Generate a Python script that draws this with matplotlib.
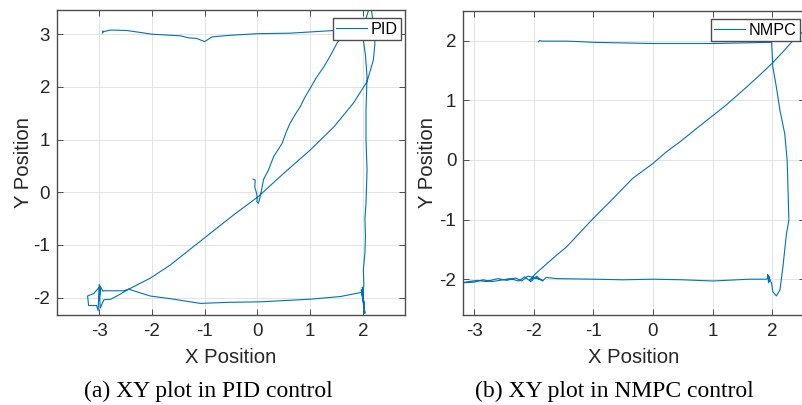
import numpy as np
import matplotlib
matplotlib.use("Agg")
import matplotlib.pyplot as plt

plt.rcParams['font.family'] = ['Liberation Sans', 'DejaVu Sans']
plt.rcParams['axes.unicode_minus'] = False

nan = np.nan

# ---------------- PID trajectory (two recorded segments, NaN = break) -------------
pid_x = [-0.08, -0.04, -0.05, -0.02, 0.00, -0.01, 0.02, 0.05, 0.08, 0.12, 0.21, 0.31, 0.40,
         0.47, 0.55, 0.62, 0.72, 0.81, 0.90, 1.00, 1.12, 1.26, 1.40, 1.51, 1.60, 1.75, 1.95,
         2.00, 1.44, 0.62, 0.00, -0.51, -0.86, -1.00, -1.15, -1.30, -1.46, -1.99, -2.47,
         -2.78, -2.92, -2.94, -2.93,
         nan,
         2.15, 2.20, 2.23, 2.20, 2.08, 1.82, 1.45, 1.00, 0.50, 0.02, -0.45, -1.21, -1.65,
         -2.03, -2.44, -2.63, -2.78, -2.91, -2.98, -3.00, -3.02, -3.05, -3.20, -3.22, -3.10,
         -2.98, -3.00, -2.97, -2.93, -2.91, -2.53, -2.44, -2.03, -1.65, -1.08, -0.57, 0.06,
         1.00, 1.57, 1.98, 2.02, 1.97, 2.03, 1.99, 2.04, 2.00, 2.02, 2.01, 2.04, 2.05, 2.04,
         2.06, 2.08, 2.06, 2.06, 2.08, 2.05, 2.01, 2.03, 2.11, 2.15]
pid_y = [0.25, 0.23, 0.10, 0.00, -0.10, -0.18, -0.21, -0.10, 0.05, 0.25, 0.42, 0.68, 0.82,
         0.93, 1.15, 1.31, 1.48, 1.62, 1.80, 1.97, 2.18, 2.38, 2.62, 2.83, 2.95, 3.05, 3.08,
         3.07, 3.07, 3.02, 3.01, 2.98, 2.95, 2.86, 2.92, 2.93, 2.97, 3.00, 3.07,
         3.08, 3.05, 3.02, 3.06,
         nan,
         3.55, 3.20, 2.83, 2.51, 2.10, 1.69, 1.24, 0.80, 0.36, -0.08, -0.43, -1.03, -1.38,
         -1.63, -1.84, -1.95, -2.03, -2.04, -2.20, -1.75, -2.25, -2.15, -2.15, -1.97, -1.92,
         -1.78, -2.05, -1.80, -1.88, -1.87, -1.87, -1.84, -1.97, -2.02, -2.11, -2.09, -2.08,
         -2.03, -1.98, -1.90, -2.10, -1.85, -2.25, -1.80, -2.30, -2.00, -1.75, -1.47, -1.15,
         -0.84, -0.50, -0.21, 0.42, 1.00, 1.56, 2.19, 2.60, 2.89, 3.20, 3.46, 3.55]

# ---------------- NMPC trajectory --------------------------------------------------
nmpc_x = [-1.92, -1.90, -1.86, -1.45, -1.20, -1.00, -0.50, 0.00, 0.50, 1.00, 1.50, 1.99,
          2.01, 2.07, 2.13, 2.21, 2.25, 2.26, 2.27, 2.28, 2.24, 2.18, 2.13, 2.07, 2.01, 1.99,
          1.93, 1.95, 1.92, 1.94, 1.96, 1.90, 1.62, 1.00, 0.50, 0.00, -0.50, -1.00, -1.62,
          -1.79, -1.85, -1.95, -2.05, -2.15, -2.25, -2.40, -2.57, -2.70, -2.85, -3.00, -3.19,
          -3.10, -2.95, -2.80, -2.60, -2.45, -2.30, -2.20, -2.10, -1.95, -1.85, -2.00, -2.07,
          -1.96, -1.87, -1.62, -1.45, -1.00, -0.70, -0.34, 0.00, 0.22, 0.45, 0.90, 1.23, 1.57,
          1.79, 1.99, 2.18, 2.35, 2.55]
nmpc_y = [1.98, 2.00, 1.99, 1.99, 1.98, 1.97, 1.96, 1.95, 1.95, 1.95, 1.96, 1.97,
          1.56, 1.22, 0.83, 0.44, 0.00, -0.30, -0.68, -1.01, -1.23, -1.79, -2.18, -2.28, -2.21,
          -2.07, -1.93, -2.04, -1.92, -2.06, -1.96, -2.00, -2.00, -2.03, -2.01, -2.00, -2.01,
          -2.00, -1.99, -1.97, -2.03, -1.95, -2.04, -1.96, -2.03, -1.99, -2.02, -2.04, -2.01,
          -2.05, -2.06, -2.04, -2.02, -2.04, -1.99, -2.02, -1.98, -2.03, -1.95, -1.98, -2.02,
          -1.97, -2.02, -1.90, -1.82, -1.60, -1.46, -0.98, -0.68, -0.31, -0.06, 0.13, 0.30,
          0.66, 0.92, 1.22, 1.42, 1.61, 1.81, 2.00, 2.18]

pid_xticks = [-3, -2, -1, 0, 1, 2]
pid_yticks = [-2, -1, 0, 1, 2, 3]
nmpc_xticks = [-3, -2, -1, 0, 1, 2]
nmpc_yticks = [-2, -1, 0, 1, 2]

LINE = '#0072BD'
W, H = 803, 405
fig = plt.figure(figsize=(W / 100, H / 100), dpi=100)


def px_axes(l, r, t, b):
    return fig.add_axes([l / W, 1 - b / H, (r - l) / W, (b - t) / H])


def style(ax, xticks, yticks, ylab_x):
    ax.set_xticks(xticks)
    ax.set_yticks(yticks)
    ax.grid(True, color='#e3e3e3', linewidth=0.7)
    ax.set_axisbelow(True)
    for s in ax.spines.values():
        s.set_color('#4d4d4d')
        s.set_linewidth(1.0)
    ax.tick_params(direction='in', length=4, width=0.7, colors='#4d4d4d',
                   top=True, right=True, labelsize=13.5, labelcolor='#262626')
    ax.tick_params(axis='x', pad=6)
    ax.tick_params(axis='y', pad=5)
    ax.set_xlabel('X Position', fontsize=14.6, color='#262626')
    ax.set_ylabel('Y Position', fontsize=14.6, color='#262626')
    ax.xaxis.set_label_coords(0.5, -0.107)
    ax.yaxis.set_label_coords(ylab_x, 0.5)


ax1 = px_axes(57, 405, 10, 315)
ax1.plot(pid_x, pid_y, color=LINE, linewidth=0.8, label='PID')
ax1.set_xlim(-3.8, 2.8)
ax1.set_ylim(-2.33, 3.46)
style(ax1, pid_xticks, pid_yticks, (33 - 57) / 348)
ax1.legend(loc='upper right', bbox_to_anchor=(1 - 3.5 / 348, 1 - 8.3 / 305),
           borderaxespad=0, fancybox=False, framealpha=1, edgecolor='#4d4d4d',
           fontsize=11.6, handlelength=1.9, handletextpad=0.25, borderpad=0.22)

ax2 = px_axes(463.3, 805, 10.7, 315)
ax2.plot(nmpc_x, nmpc_y, color=LINE, linewidth=0.8, label='NMPC')
ax2.set_xlim(-3.18, 2.55)
ax2.set_ylim(-2.6, 2.5)
style(ax2, nmpc_xticks, nmpc_yticks, (437 - 463.3) / 341.7)
ax2.legend(loc='upper right', bbox_to_anchor=(1 - 5 / 341.7, 1 - 8.3 / 304.3),
           borderaxespad=0, fancybox=False, framealpha=1, edgecolor='#4d4d4d',
           fontsize=11.6, handlelength=1.9, handletextpad=0.25, borderpad=0.22)

for l in (ax1.get_legend(), ax2.get_legend()):
    l.get_frame().set_linewidth(1.0)

fig.text(208 / W, 1 - 396.5 / H, '(a) XY plot in PID control', ha='center', va='baseline',
         fontsize=17, family=['Liberation Serif', 'DejaVu Serif'])
fig.text(614 / W, 1 - 396.5 / H, '(b) XY plot in NMPC control', ha='center', va='baseline',
         fontsize=17, family=['Liberation Serif', 'DejaVu Serif'])

fig.savefig('out.png', dpi=100)
